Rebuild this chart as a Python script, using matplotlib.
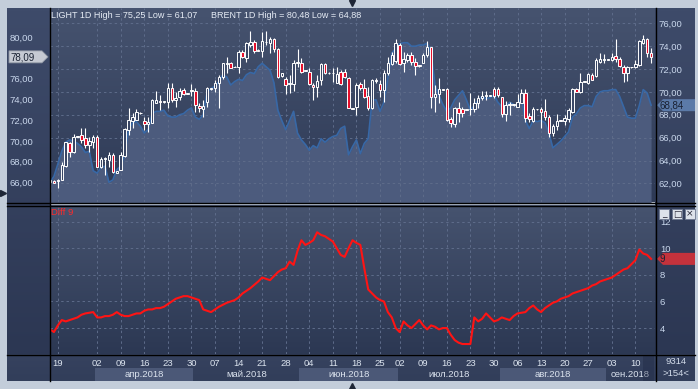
import numpy as np
import matplotlib.pyplot as plt
from matplotlib.patches import Rectangle, Polygon
from matplotlib.ticker import FixedLocator, FuncFormatter
from matplotlib.colors import to_rgb

plt.rcParams["font.family"] = ["Liberation Sans", "DejaVu Sans"]

# ---------------------------------------------------------------------
# data (one bar per session, 6 per week)
# ---------------------------------------------------------------------
brent_open = [
    66.10, 66.19, 66.15, 66.25, 67.60, 69.84, 68.92, 70.40, 70.58, 70.26,
    69.62, 69.94, 70.35, 67.53, 68.30, 68.17, 68.65, 66.95, 67.21, 68.56,
    71.06, 71.95, 72.02, 72.70, 71.92, 71.67, 71.76, 73.69, 73.80, 73.78,
    73.78, 75.06, 73.94, 74.20, 74.90, 74.55, 74.80, 74.84, 73.37, 73.05,
    73.78, 75.00, 75.06, 75.61, 76.12, 77.45, 77.47, 77.10, 77.15, 78.59,
    77.95, 79.23, 79.55, 78.75, 78.69, 79.50, 79.46, 79.78, 78.81, 76.25,
    75.93, 75.50, 75.45, 77.50, 77.53, 76.75, 76.67, 75.39, 75.23, 75.87,
    77.40, 76.50, 76.50, 75.55, 76.60, 76.60, 76.03, 73.10, 73.24, 75.45,
    75.06, 74.33, 73.14, 75.78, 75.45, 74.90, 76.51, 77.40, 77.73, 79.23,
    77.47, 77.79, 78.27, 77.63, 77.20, 77.53, 78.27, 79.01, 74.20, 74.52,
    74.95, 74.97, 72.08, 71.64, 73.14, 73.05, 73.00, 73.03, 73.05, 73.69,
    74.10, 74.33, 74.33, 74.97, 74.97, 74.20, 72.60, 73.45, 73.45, 73.30,
    73.69, 74.58, 72.40, 71.96, 73.03, 73.05, 72.92, 72.28, 70.80, 71.44,
    71.95, 71.96, 72.08, 72.82, 74.97, 74.74, 75.70, 75.55, 76.35, 76.25,
    77.63, 77.78, 77.78, 77.79, 78.17, 77.85, 77.15, 76.57, 77.08, 77.08,
    77.31, 79.46, 79.78, 78.50,
]
brent_high = [
    66.25, 66.25, 66.30, 68.01, 69.93, 69.93, 70.67, 70.50, 71.22, 71.22,
    70.42, 70.58, 70.58, 68.49, 68.49, 68.97, 68.81, 67.10, 68.97, 71.22,
    73.14, 72.66, 73.05, 72.75, 72.34, 72.34, 74.00, 74.80, 74.42, 73.85,
    75.55, 75.55, 74.74, 75.06, 75.06, 74.65, 75.45, 75.06, 73.62, 73.94,
    75.23, 75.10, 75.87, 76.35, 77.53, 78.04, 77.63, 77.20, 78.75, 78.75,
    79.55, 80.60, 79.71, 78.80, 80.51, 80.58, 80.03, 79.87, 78.91, 76.55,
    76.12, 76.35, 77.79, 78.82, 77.95, 76.85, 76.99, 75.55, 76.35, 77.53,
    77.53, 76.60, 76.99, 77.15, 76.83, 76.90, 76.19, 73.20, 75.55, 75.71,
    75.93, 75.23, 75.93, 76.03, 75.87, 76.83, 78.11, 78.59, 79.78, 79.39,
    78.59, 78.43, 78.59, 77.95, 77.30, 78.43, 79.65, 79.07, 75.39, 76.03,
    75.00, 75.06, 72.34, 73.30, 73.78, 73.24, 73.10, 74.58, 74.10, 74.42,
    74.84, 74.84, 74.40, 75.23, 75.23, 74.26, 73.88, 73.78, 73.50, 74.52,
    74.97, 74.97, 72.66, 73.24, 73.10, 73.24, 74.01, 72.50, 71.64, 72.60,
    72.00, 72.50, 73.14, 75.06, 75.06, 76.51, 75.75, 76.57, 76.51, 77.95,
    78.43, 78.37, 77.85, 78.50, 79.78, 78.05, 77.31, 77.21, 77.15, 77.79,
    79.71, 80.19, 79.87, 78.91,
]
brent_low = [
    65.10, 65.95, 65.45, 66.20, 67.53, 68.49, 68.81, 70.35, 69.78, 69.30,
    68.97, 69.30, 67.53, 67.37, 66.73, 67.53, 66.89, 66.90, 67.21, 68.49,
    70.58, 71.22, 72.00, 72.60, 71.06, 70.90, 71.70, 73.62, 72.98, 73.70,
    73.14, 73.78, 73.24, 73.94, 74.42, 74.50, 74.33, 72.82, 72.82, 72.34,
    73.30, 74.95, 74.74, 73.14, 75.93, 76.51, 76.99, 77.10, 76.51, 77.95,
    77.63, 79.07, 78.43, 78.65, 78.11, 79.23, 78.43, 78.59, 76.03, 76.20,
    74.52, 74.58, 74.84, 77.15, 76.51, 76.70, 75.39, 73.94, 74.26, 75.39,
    76.44, 76.45, 75.71, 75.55, 75.39, 76.03, 73.14, 73.05, 72.50, 74.90,
    74.10, 72.98, 73.05, 75.55, 74.26, 73.78, 76.35, 77.31, 77.47, 77.31,
    76.67, 77.63, 77.31, 76.35, 77.15, 77.47, 78.11, 73.14, 72.82, 73.62,
    74.90, 71.96, 71.38, 71.32, 71.86, 72.34, 72.95, 72.50, 72.82, 73.14,
    73.94, 73.94, 74.30, 74.10, 74.26, 72.34, 71.92, 72.50, 73.40, 73.24,
    73.62, 71.86, 71.86, 71.86, 73.00, 71.22, 72.02, 70.35, 70.48, 71.06,
    71.90, 71.54, 71.86, 72.66, 74.74, 74.65, 75.65, 75.48, 75.87, 76.12,
    77.47, 77.47, 77.75, 77.73, 77.63, 77.08, 75.71, 75.80, 77.05, 76.99,
    77.21, 79.33, 78.11, 77.47,
]
brent_close = [
    66.20, 66.00, 66.20, 67.69, 69.87, 68.97, 70.42, 70.45, 70.10, 69.62,
    70.03, 70.35, 67.53, 68.24, 68.33, 68.65, 67.05, 67.10, 68.65, 71.12,
    72.02, 72.28, 72.82, 72.66, 71.60, 71.86, 73.94, 73.94, 73.78, 73.80,
    75.06, 73.94, 74.17, 74.81, 74.52, 74.60, 74.84, 73.46, 73.14, 73.37,
    75.06, 75.06, 75.61, 76.12, 77.47, 77.47, 77.05, 77.15, 78.59, 78.05,
    79.46, 79.55, 78.69, 78.70, 79.65, 79.55, 79.78, 78.81, 76.19, 76.51,
    75.39, 75.55, 77.47, 77.53, 76.67, 76.80, 75.48, 75.16, 75.80, 77.40,
    76.57, 76.55, 76.52, 76.44, 75.48, 76.12, 73.14, 73.15, 75.39, 75.13,
    74.26, 73.14, 75.87, 75.80, 74.90, 76.57, 77.53, 78.27, 79.46, 77.40,
    77.85, 78.27, 77.63, 77.21, 77.25, 78.27, 79.01, 74.20, 74.52, 74.97,
    74.97, 72.02, 71.70, 73.14, 72.66, 72.66, 73.05, 73.05, 73.69, 74.10,
    74.33, 74.35, 74.35, 74.33, 74.42, 72.60, 73.46, 73.46, 73.47, 73.78,
    74.58, 72.24, 72.08, 73.05, 73.05, 72.82, 72.28, 70.80, 71.44, 71.96,
    71.97, 72.18, 72.98, 74.97, 74.74, 75.71, 75.72, 76.44, 75.87, 77.79,
    77.85, 77.80, 77.80, 78.11, 77.85, 77.21, 76.57, 77.15, 77.10, 77.40,
    79.65, 79.78, 78.43, 78.09,
]
light_close = [
    62.1, 62.6, 63.7, 64.8, 65.6, 65.8, 65.7, 65.5, 65.2, 64.7,
    64.8, 63.1, 62.9, 63.4, 63.5, 62.1, 62.3, 63.2, 63.5, 64.5,
    66.7, 67.3, 67.4, 67.0, 66.4, 66.7, 68.1, 68.3, 68.3, 68.4,
    67.9, 67.8, 67.8, 68.0, 68.1, 68.4, 68.6, 67.8, 67.6, 68.0,
    70.0, 70.3, 70.5, 70.9, 71.5, 71.3, 70.6, 70.9, 71.1, 71.0,
    71.5, 71.7, 71.6, 72.2, 72.5, 72.2, 71.9, 70.8, 68.4, 67.5,
    66.7, 67.5, 68.3, 66.4, 65.8, 65.4, 64.9, 65.3, 65.1, 65.9,
    65.6, 65.9, 66.1, 66.2, 66.8, 67.0, 64.5, 65.2, 65.8, 64.6,
    65.5, 65.9, 69.3, 69.3, 68.3, 69.1, 71.2, 73.4, 73.8, 74.2,
    74.3, 74.3, 74.0, 74.0, 74.1, 74.1, 74.25, 73.4, 70.6, 69.7,
    68.9, 68.3, 68.6, 69.3, 69.7, 70.1, 69.3, 68.4, 68.8, 69.3,
    69.6, 69.4, 69.5, 69.7, 69.1, 68.7, 68.7, 69.1, 68.9, 68.7,
    69.6, 67.5, 66.8, 67.5, 67.4, 67.5, 67.3, 66.4, 65.1, 65.4,
    65.7, 66.1, 66.5, 67.8, 68.1, 68.6, 68.8, 68.8, 68.7, 69.6,
    70.0, 70.1, 70.1, 70.2, 70.2, 69.6, 68.7, 67.8, 67.7, 67.7,
    68.8, 70.2, 69.9, 68.84,
]
diff_close = [
    3.9, 3.7, 4.2, 4.6, 4.5, 4.6, 4.7, 4.8, 5.0, 5.1,
    5.15, 5.2, 4.8, 4.8, 4.9, 4.9, 5.0, 5.2, 5.0, 4.9,
    4.9, 5.0, 5.1, 5.1, 5.3, 5.4, 5.4, 5.5, 5.5, 5.6,
    5.8, 6.0, 6.2, 6.3, 6.4, 6.4, 6.3, 6.2, 6.1, 5.4,
    5.3, 5.2, 5.4, 5.6, 5.75, 5.9, 6.0, 6.1, 6.3, 6.6,
    6.8, 7.0, 7.25, 7.5, 7.8, 7.7, 7.6, 7.9, 8.2, 8.4,
    8.5, 9.0, 8.75, 9.8, 10.6, 10.25, 10.4, 10.6, 11.2, 11.0,
    10.9, 10.7, 10.5, 10.0, 9.5, 9.35, 10.0, 10.6, 10.4, 10.25,
    8.5, 6.9, 6.6, 6.3, 6.1, 6.0, 5.2, 4.8, 4.0, 3.7,
    4.5, 4.2, 4.0, 4.3, 4.6, 4.2, 3.9, 4.2, 4.1, 3.9,
    4.0, 4.0, 3.5, 3.1, 2.9, 2.8, 2.8, 2.8, 4.8, 4.5,
    4.7, 5.1, 4.8, 4.5, 4.6, 4.8, 4.7, 4.6, 4.9, 5.1,
    5.15, 5.2, 5.5, 5.7, 5.4, 5.2, 5.5, 5.7, 5.9, 6.0,
    6.2, 6.3, 6.4, 6.6, 6.7, 6.8, 6.9, 7.0, 7.2, 7.3,
    7.5, 7.6, 7.7, 7.8, 8.0, 8.2, 8.4, 8.5, 8.8, 9.1,
    9.9, 9.6, 9.5, 9.2,
]

# first bar of each week that carries a date label
week_bars = [2, 12, 18, 24, 30, 36, 42, 48, 54, 60, 66, 72, 78, 84, 89,
             95, 101, 107, 113, 119, 125, 131, 137, 143, 149]
week_labels = ["19", "02", "09", "16", "23", "30", "07", "14", "21", "28",
               "04", "11", "18", "25", "02", "09", "16", "23", "30", "06",
               "13", "20", "27", "03", "10"]
month_first_bar = [12, 37, 64, 89, 115, 142]
month_labels = ["апр.2018", "май.2018", "июн.2018", "июл.2018",
                "авг.2018", "сен.2018"]

# 78,00 is hidden under the last-price tag in the original, so it is left out
brent_ticks = [66, 68, 70, 72, 74, 76, 80]
light_ticks = [62, 64, 66, 68, 70, 72, 74, 76]
diff_ticks = [4, 6, 8, 10, 12]

# ---------------------------------------------------------------------
W, H = 698, 389
FRAME = "#c3cdda"
TXT = "#c9d7ec"
GRID = "#5e6c8a"

fig = plt.figure(figsize=(W / 100, H / 100), dpi=100)
fig.patch.set_facecolor(FRAME)

bg = fig.add_axes([0, 0, 1, 1], zorder=0)
bg.axis("off")


def px_rect(x0, y0, x1, y1):
    return [x0 / W, 1 - y1 / H, (x1 - x0) / W, (y1 - y0) / H]


def vgrad(x0, x1, y0, y1, c_top, c_bot):
    a = np.array(to_rgb(c_top))
    b = np.array(to_rgb(c_bot))
    t = np.linspace(0, 1, 64)[:, None]
    img = (a * (1 - t) + b * t)[:, None, :]
    bg.imshow(img, extent=(x0, x1, y1, y0), aspect="auto",
              interpolation="bilinear", zorder=0)


# panel backgrounds
vgrad(50, 655, 8, 202, "#46536f", "#2e3a56")      # price panel
vgrad(50, 655, 205, 354, "#46536f", "#2c3853")    # diff panel
vgrad(7, 50, 8, 354, "#3e4b6a", "#2c3753")        # left axis column
vgrad(655, 695, 8, 354, "#3e4b6a", "#2c3753")     # right axis column
vgrad(7, 695, 354, 381, "#36425f", "#323e5a")     # date strip
bg.set_xlim(0, W)
bg.set_ylim(H, 0)

# --- price panel: LIGHT area on right scale, BRENT candles on left scale
x = np.arange(len(brent_close))
ax_l = fig.add_axes(px_rect(50, 8, 655, 202), zorder=1)
ax_l.patch.set_visible(False)
ax_l.fill_between(x, light_close, 50, color="#4c5b7d", lw=0, zorder=1)
ax_l.plot(x, light_close, color="#3868a6", lw=1.2, zorder=2)
ax_l.set_ylim(60.37, 77.34)
ax_l.set_xlim(0, len(x))

ax_b = ax_l.twinx()
ax_b.patch.set_visible(False)
o = np.array(brent_open)
c = np.array(brent_close)
hi = np.array(brent_high)
lo = np.array(brent_low)
up = c >= o
body = np.maximum(np.abs(c - o), 0.06)
ax_b.vlines(x, lo, hi, color="white", lw=0.8, zorder=3)
ax_b.bar(x[up], body[up], bottom=np.minimum(o, c)[up], width=0.65,
         color="#3a4766", edgecolor="white", lw=0.7, zorder=4)
ax_b.bar(x[~up], body[~up], bottom=np.minimum(o, c)[~up], width=0.65,
         color="#e5102c", edgecolor="white", lw=0.7, zorder=4)
ax_b.set_ylim(64.13, 82.79)

comma2 = FuncFormatter(lambda v, _: f"{v:.2f}".replace(".", ","))
ax_l.yaxis.tick_right()
ax_l.yaxis.set_major_locator(FixedLocator(light_ticks))
ax_l.yaxis.set_major_formatter(comma2)
ax_l.tick_params(axis="y", length=0, pad=2.2, labelsize=6.8, labelcolor=TXT)
ax_b.yaxis.tick_left()
ax_b.yaxis.set_major_locator(FixedLocator(brent_ticks))
ax_b.yaxis.set_major_formatter(comma2)
ax_b.tick_params(axis="y", length=0, pad=12, labelsize=6.8, labelcolor=TXT)

# --- diff panel
ax_d = fig.add_axes(px_rect(50, 205, 655, 354), sharex=ax_l, zorder=1)
ax_d.patch.set_visible(False)
ax_d.plot(x, diff_close, color="#ff1414", lw=1.5, zorder=3)
ax_d.set_ylim(2.05, 13.25)
ax_d.yaxis.tick_right()
ax_d.yaxis.set_major_locator(FixedLocator(diff_ticks))
ax_d.tick_params(axis="y", length=0, pad=3.6, labelsize=6.8, labelcolor=TXT)

ax_d.xaxis.set_major_locator(FixedLocator(week_bars))
ax_d.set_xticklabels(week_labels)
ax_d.tick_params(axis="x", length=0, pad=3.5, labelsize=6.8, labelcolor="#dbe3ee")
ax_l.tick_params(axis="x", length=0, labelbottom=False)
ax_b.tick_params(axis="x", length=0, labelbottom=False)

for a in (ax_l, ax_b, ax_d):
    for s in a.spines.values():
        s.set_visible(False)
for a in (ax_l, ax_d):
    a.grid(True, color=GRID, lw=0.7, ls=(0, (2.5, 3)))

# --- month band row under the day labels
ax_m = fig.add_axes(px_rect(50, 368, 655, 381), sharex=ax_l, zorder=1)
ax_m.set_ylim(0, 1)
ax_m.axis("off")
edges = [b - 0.5 for b in month_first_bar] + [len(x)]
for i, lab in enumerate(month_labels):
    x0, x1 = edges[i], edges[i + 1]
    if i % 2 == 0:
        ax_m.axvspan(x0, x1, color="#4b5877", lw=0)
    ax_m.text((x0 + x1) / 2, 0.5, lab, ha="center", va="center",
              fontsize=6.8, color="#dbe3ee", clip_on=True)

# --- overlay: separators, markers, captions, window buttons
ov = fig.add_axes([0, 0, 1, 1], zorder=5)
ov.set_xlim(0, W)
ov.set_ylim(H, 0)
ov.axis("off")
ov.plot([49.5, 49.5], [8, 381], color="black", lw=1)
ov.plot([655.5, 655.5], [8, 381], color="black", lw=1)
ov.plot([7, 695], [202.5, 202.5], color="black", lw=1)
ov.plot([7, 695], [205.5, 205.5], color="black", lw=1)
ov.plot([7, 695], [354.5, 354.5], color="black", lw=1)
ov.add_patch(Rectangle((643, 355), 11, 26, color="#1c2540", alpha=0.35, lw=0))

ov.text(51, 15, "LIGHT 1D High = 75,25 Low = 61,07", fontsize=6.5,
        color="#e6ecf5", va="center")
ov.text(211, 15, "BRENT 1D High = 80,48 Low = 64,88", fontsize=6.5,
        color="#e6ecf5", va="center")
ov.text(51, 212, "Diff 9", fontsize=6.8, color="#ff2a2a", va="center")


def y_px(ax, v):
    return H - ax.transData.transform((0, v))[1]


def tag_left_tip(ax, v, text, fc, x0=657, x1=695):
    y = y_px(ax, v)
    pts = [(x0, y), (x0 + 6, y - 6), (x1, y - 6), (x1, y + 6), (x0 + 6, y + 6)]
    ov.add_patch(Polygon(pts, closed=True, fc=fc, ec="none"))
    ov.text(x0 + 3, y + 0.5, text, fontsize=7, color="#1a2233", va="center")


def tag_right_tip(ax, v, text, fc, x0=9, x1=48):
    y = y_px(ax, v)
    pts = [(x0, y - 6), (x1 - 6, y - 6), (x1, y), (x1 - 6, y + 6), (x0, y + 6)]
    ov.add_patch(Polygon(pts, closed=True, fc=fc, ec="#8f96a3", lw=0.6))
    ov.text(x0 + 1, y + 0.5, text, fontsize=7, color="#1a2233", va="center")


tag_right_tip(ax_b, brent_close[-1], "78,09", "#c6cad3")
tag_left_tip(ax_l, light_close[-1], "68,84", "#5b7aa8")
tag_left_tip(ax_d, diff_close[-1], "9", "#c4323c")

for bx, sym in zip([659, 672, 685], ["_", "□", "×"]):
    ov.add_patch(Rectangle((bx, 209), 10, 10, fc="#dde2ea", ec="#6d7890", lw=0.6))
    ov.text(bx + 5, 214, sym, fontsize=6.5, color="#223", ha="center",
            va="center", family="DejaVu Sans")

ov.text(676, 362, "9314", fontsize=6.8, color="#d3dcea", ha="center", va="center")
ov.text(676, 374, ">154<", fontsize=6.8, color="#d3dcea", ha="center", va="center")

ov.plot([352], [3], marker="v", ms=4, color="#1e2636")
ov.plot([3], [193], marker=">", ms=4, color="#1e2636")
ov.plot([352], [386], marker="^", ms=4, color="#1e2636")

fig.savefig("out.png", dpi=100, facecolor=FRAME)
